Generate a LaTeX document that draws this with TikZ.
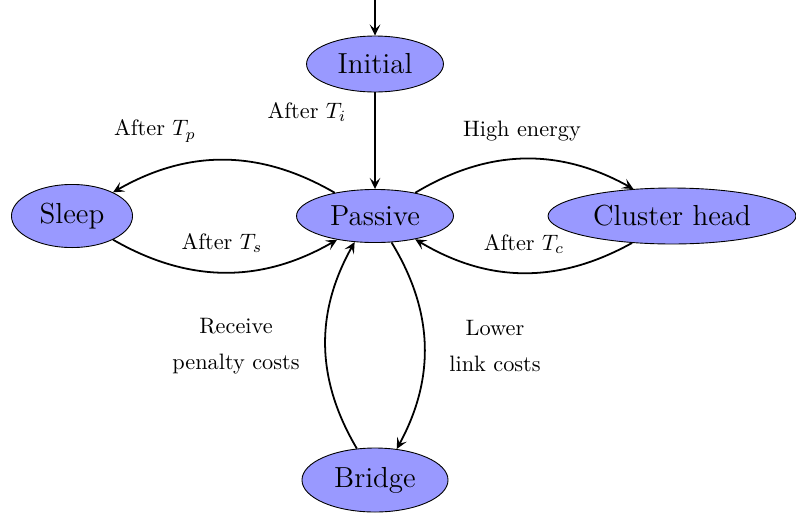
\documentclass[tikz,border=0pt]{standalone}
\usetikzlibrary{shapes.geometric,arrows.meta}
\begin{document}
\begin{tikzpicture}[x=0.4485pt,y=-0.4485pt,
  state/.style={ellipse, draw, fill=blue!40, inner sep=0pt, font=\fontsize{13}{15}\selectfont},
  lbl/.style={font=\normalsize, inner sep=0pt, align=center},
  edge/.style={thick, -{Stealth[length=5pt,width=4.8pt,inset=2.2pt]}}]
\useasboundingbox (0,0) rectangle (796,514);
\node[state, minimum width=61.4pt, minimum height=25.1pt] (Initial) at (375,64) {Initial};
\node[state, minimum width=70.4pt, minimum height=23.8pt] (Passive) at (375,216) {Passive};
\node[state, minimum width=54.3pt, minimum height=28.3pt] (Sleep) at (72,216) {Sleep};
\node[state, minimum width=111.2pt, minimum height=25.1pt] (Cluster) at (672,216) {Cluster head};
\node[state, minimum width=65.5pt, minimum height=28.7pt] (Bridge) at (375,480) {Bridge};
\coordinate (start) at (375,0);
\draw[edge] (start) -- (Initial);
\draw[edge] (Initial) -- (Passive);
\draw[edge] (Passive.150) to[bend right=30] (Sleep.30);
\draw[edge] (Sleep.-30) to[bend right=30] (Passive.212);
\draw[edge] (Passive.30) to[bend left=30] (Cluster.145);
\draw[edge] (Cluster.214) to[bend left=30] (Passive.-30);
\draw[edge] (Passive.-58) to[bend left=30] (Bridge.55);
\draw[edge] (Bridge.120) to[bend left=30] (Passive.232);
\node[lbl] (lTi) at (307,112) {After $T_i$};
\node[lbl] (lTp) at (155,131) {After $T_p$};
\node[lbl] (lHE) at (522,131) {High energy};
\node[lbl] (lTs) at (222,243) {After $T_s$};
\node[lbl] (lTc) at (524,244) {After $T_c$};
\node[lbl] (lRP) at (236,346) {Receive\\[4pt]penalty costs};
\node[lbl] (lLL) at (495,346) {Lower\\[4pt]link costs};
\end{tikzpicture}
\end{document}
